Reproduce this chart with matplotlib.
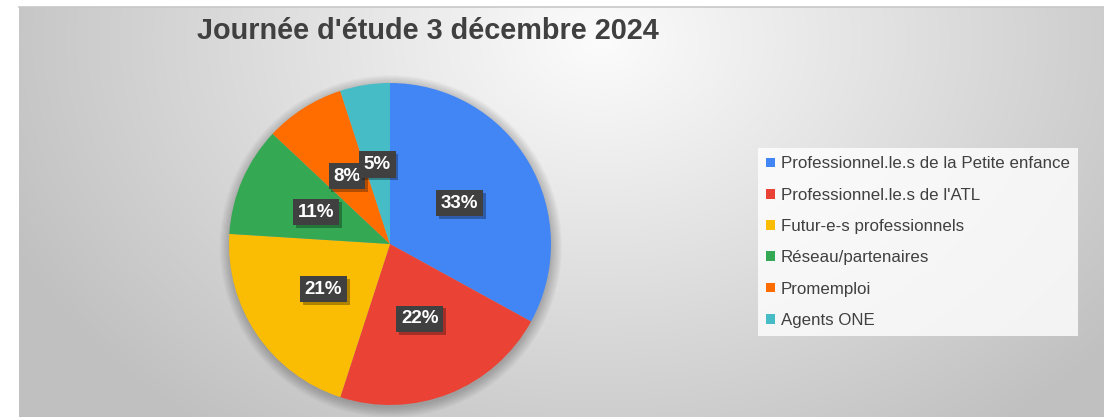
import numpy as np
import matplotlib
matplotlib.use('Agg')
import matplotlib.pyplot as plt
import matplotlib.patches as mpatches
import matplotlib.patheffects as pe

# data
categories = ["Professionnel.le.s de la Petite enfance",
              "Professionnel.le.s de l'ATL",
              "Futur-e-s professionnels",
              "Réseau/partenaires",
              "Promemploi",
              "Agents ONE"]
shares = [33, 22, 21, 11, 8, 5]
colours = ["#4285F4", "#EA4335", "#FBBC04", "#34A853", "#FF6D01", "#46BDC6"]
title = "Journée d'étude 3 décembre 2024"

W, H = 1104, 417
plt.rcParams['font.family'] = ['Liberation Sans', 'DejaVu Sans']
fig = plt.figure(figsize=(W/100, H/100), dpi=100)
fig.patch.set_facecolor('white')

# background: soft radial grey gradient (chart area starts at x=19, y=7)
x0, ytop = 19, 7
bg = fig.add_axes([x0/W, 0, 1 - x0/W, 1 - ytop/H])
xx, yy = np.meshgrid(np.arange(x0, W), np.arange(ytop, H))
tt = np.sqrt(((xx - 600)/600.0)**2 + ((yy - 40)/450.0)**2)
grey = np.clip(252 - 55*tt, 192, 252) / 255.0
bg.imshow(np.dstack([grey, grey, grey]), aspect='auto', interpolation='bilinear')
bg.axis('off')
fig.add_artist(plt.Line2D([x0/W, 1], [1 - ytop/H]*2, color='#c8c8c8', lw=1.2))

# pie axes: centre (390, 244) px, radius 161 px
cx, cy, r = 390, 244, 161
half = 175
ax = fig.add_axes([(cx - half)/W, (H - cy - half)/H, 2*half/W, 2*half/H])

# soft shadow under the pie
for k in range(10):
    ax.add_patch(mpatches.Circle((0.005, -0.015), 1.0 + 0.007*k, fc='k',
                                 ec='none', alpha=0.022, zorder=0))

wedges, texts, autotexts = ax.pie(
    shares, colors=colours, startangle=90, counterclock=False,
    autopct=lambda p: '{0:.0f}%'.format(p), pctdistance=0.5,
    wedgeprops=dict(linewidth=0),
    textprops=dict(color='white', fontsize=13.5, fontweight='bold'),
    frame=True)
ax.axis('off')
ax.set_xlim(-half/r, half/r)
ax.set_ylim(-half/r, half/r)
for t in autotexts:
    t.set_bbox(dict(boxstyle='square,pad=0.25', fc='#404040', ec='none'))
    t.get_bbox_patch().set_path_effects(
        [pe.SimplePatchShadow(offset=(2, -2), shadow_rgbFace='k', alpha=0.3),
         pe.Normal()])

fig.text(428/W, 1 - 31/H, title, ha='center', va='center',
         fontsize=20.8, fontweight='bold', color='#404040')

leg = fig.legend(wedges, categories, loc='upper left',
                 bbox_to_anchor=(758/W, 1 - 148/H), borderaxespad=0,
                 fontsize=12.2, labelspacing=0.96, handlelength=0.5,
                 handleheight=0.5, handletextpad=0.35, borderpad=0.5,
                 frameon=True, fancybox=False, labelcolor='#404040')
leg.get_frame().set_facecolor((1, 1, 1, 0.12))
leg.get_frame().set_edgecolor('none')

fig.savefig('out.png', dpi=100)
